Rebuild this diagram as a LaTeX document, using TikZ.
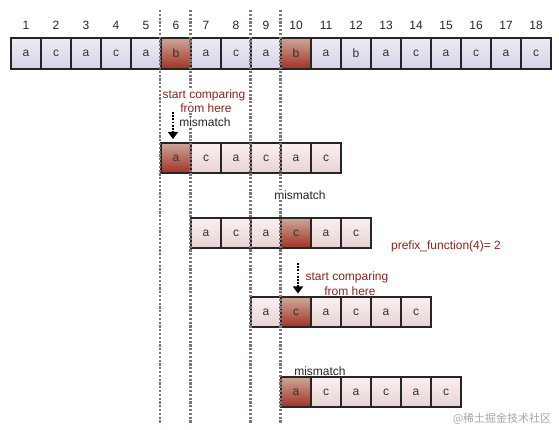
\documentclass[tikz,border=0pt]{standalone}
\usepackage{fontspec}
\setmainfont{Liberation Sans}
\newfontfamily\cjkfont{Noto Sans CJK SC}
\definecolor{CellBorder}{RGB}{38,38,38}
\definecolor{TextTop}{RGB}{238,236,246}
\definecolor{TextBottom}{RGB}{214,210,230}
\definecolor{PatTop}{RGB}{250,240,240}
\definecolor{PatBottom}{RGB}{232,210,210}
\definecolor{HitTop}{RGB}{204,168,152}
\definecolor{HitBottom}{RGB}{162,48,34}
\definecolor{NoteColor}{RGB}{138,38,28}
\definecolor{GuideColor}{RGB}{128,116,120}
\usetikzlibrary{positioning, arrows.meta}

\tikzset{
  cell/.style={draw=CellBorder, line width=2pt, minimum width=30pt, minimum height=31pt,
    inner sep=0pt, font=\fontsize{12}{14}\selectfont, text=black!80,
    top color=TextTop, bottom color=TextBottom},
  hit/.style={cell, top color=HitTop, bottom color=HitBottom},
  pcell/.style={cell, minimum height=30pt, top color=PatTop, bottom color=PatBottom},
  phit/.style={pcell, top color=HitTop, bottom color=HitBottom},
  num/.style={font=\fontsize{12}{14}\selectfont, text=black!85},
  note/.style={font=\fontsize{12}{14}\selectfont, text=NoteColor, fill=white, inner sep=1pt},
  miss/.style={font=\fontsize{12}{14}\selectfont, text=black!85, fill=white, inner sep=1pt},
  guide/.style={GuideColor, line width=2.3pt, dash pattern=on 2.2pt off 1.6pt},
  pointer/.style={black, line width=1.4pt, dash pattern=on 1.8pt off 1.4pt,
    -{Triangle[width=10pt, length=7pt]}}
}

\begin{document}
\begin{tikzpicture}[x=1pt, y=1pt]
  \useasboundingbox (0,0) rectangle (559,430);

  % text and positions
  \foreach \ch/\st [count=\i] in {a/cell,c/cell,a/cell,c/cell,a/cell,b/hit,a/cell,c/cell,a/cell,
      b/hit,a/cell,b/cell,a/cell,c/cell,a/cell,c/cell,a/cell,c/cell} {
    \node[\st] (t\i) at (26+30*\i-30, 376.5) {\ch};
    \node[num] (n\i) at (26+30*\i-30, 405) {\i};
  }

  % pattern, shifted four times
  \foreach \ch/\st [count=\i] in {a/phit,c/pcell,a/pcell,c/pcell,a/pcell,c/pcell}
    \node[\st] (pa\i) at (176+30*\i-30, 272) {\ch};
  \foreach \ch/\st [count=\i] in {a/pcell,c/pcell,a/pcell,c/phit,a/pcell,c/pcell}
    \node[\st] (pb\i) at (206+30*\i-30, 197) {\ch};
  \foreach \ch/\st [count=\i] in {a/pcell,c/phit,a/pcell,c/pcell,a/pcell,c/pcell}
    \node[\st] (pc\i) at (266+30*\i-30, 117.5) {\ch};
  \foreach \ch/\st [count=\i] in {a/phit,c/pcell,a/pcell,c/pcell,a/pcell,c/pcell}
    \node[\st] (pd\i) at (296+30*\i-30, 38) {\ch};

  % guides
  \foreach \gx in {160,190.5,250.5,280.5}
    \draw[guide] (\gx,420) -- (\gx,7);

  % notes
  \node[note] (start1) at (204, 335) {start comparing};
  \node[note] (here1) at (206, 322) {from here};
  \node[miss] (miss1) at (205, 308) {mismatch};
  \coordinate (arr1) at (173, 318);
  \draw[pointer] (arr1) -- ([yshift=3pt]arr1 |- pa1.north);

  \node[miss] (miss2) at (300, 235) {mismatch};
  \node[note] (prefix) at (446, 184) {prefix\_function(4)= 2};

  \node[note] (start2) at (347, 153) {start comparing};
  \node[note] (here2) at (350, 139) {from here};
  \coordinate (arr2) at (298, 167);
  \draw[pointer] (arr2) -- ([yshift=3pt]arr2 |- pc2.north);

  \node[miss] (miss3) at (320, 59) {mismatch};

  \node[text=black!35, font=\cjkfont\fontsize{11}{13}\selectfont] (mark) at (502, 11) {@稀土掘金技术社区};
\end{tikzpicture}
\end{document}
